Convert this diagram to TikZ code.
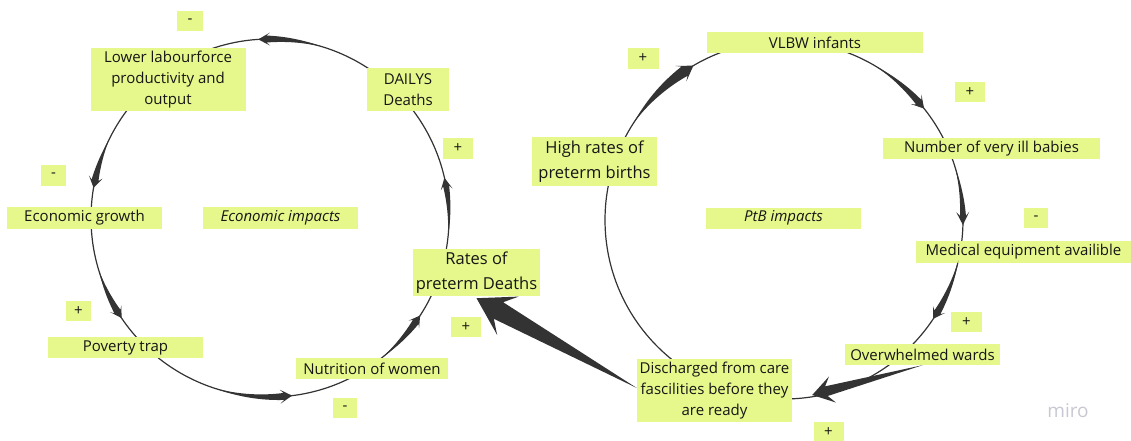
\documentclass[tikz,border=0pt]{standalone}
\usepackage{fontspec}
\setmainfont{Open Sans}
\usetikzlibrary{calc}
\definecolor{notefill}{HTML}{E6F78C}
\definecolor{ink}{HTML}{333333}
\definecolor{txt}{HTML}{161616}
\definecolor{wmark}{HTML}{C8C8D2}

% tapered arrow that follows a circular arc:
% #1 centre, #2 radius, #3 tail angle, #4 tip angle, #5 neck width, #6 head width, #7 head length
\newcommand{\arcwedge}[7]{%
  \pgfmathsetmacro{\wgS}{((#4)>(#3))?1:-1}%
  \pgfmathsetmacro{\wgA}{(#4)-\wgS*(#7)/(#2)*180/pi}%
  \pgfmathsetmacro{\wgN}{(#4)-\wgS*0.7*(#7)/(#2)*180/pi}%
  \begin{scope}[shift={(#1)}]
    \fill[wedge] (#3:#2)
      -- plot[domain=0:1,samples=14] ({(#3)+(\wgN-(#3))*\x}:{#2+(#5)/2*\x})
      -- (\wgA:{#2+(#6)/2}) -- (#4:#2) -- (\wgA:{#2-(#6)/2})
      -- plot[domain=0:1,samples=14] ({\wgN+((#3)-\wgN)*\x}:{#2-(#5)/2*(1-\x)})
      -- cycle;
  \end{scope}}

% straight tapered arrow: #1 tail, #2 tip, #3 neck width, #4 head width, #5 head length
\newcommand{\linewedge}[5]{%
  \pgfmathsetmacro{\wgN}{0.7*#5}%
  \pgfmathsetmacro{\wgW}{#3/2}%
  \pgfmathsetmacro{\wgH}{#4/2}%
  \fill[wedge] (#1)
    -- ($(#2)!\wgN pt!(#1)!\wgW pt!90:(#1)$)
    -- ($(#2)!#5 pt!(#1)!\wgH pt!90:(#1)$)
    -- (#2)
    -- ($(#2)!#5 pt!(#1)!\wgH pt!-90:(#1)$)
    -- ($(#2)!\wgN pt!(#1)!\wgW pt!-90:(#1)$)
    -- cycle;}

\begin{document}
\begin{tikzpicture}[x=1pt,y=-1pt,
  note/.style={fill=notefill, text=txt, inner sep=0pt, align=center,
    font=\fontsize{15}{21}\selectfont},
  bignote/.style={note, font=\fontsize{16.5}{24.5}\selectfont},
  sz/.style 2 args={minimum width=#1pt, minimum height=#2pt},
  loopline/.style={draw=ink, line width=1.2pt},
  wedge/.style={fill=ink}]

\useasboundingbox (0,0) rectangle (1131,441);

% centres of the two feedback loops
\coordinate (lc) at (270,218);
\coordinate (rc) at (784,220);

\draw[loopline] (lc) circle[radius=179pt];
\draw[loopline] (rc) circle[radius=179pt];

% economic loop
\node[note, sz={26}{20}]  (m1)      at (190,21)    {-};
\node[note, sz={155}{63}] (lower)   at (168,80)    {Lower labourforce\\productivity and\\output};
\node[note, sz={82}{43}]  (dailys)  at (408,90)    {DAILYS\\Deaths};
\node[note, sz={30}{21}]  (pd)      at (458,148.5) {+};
\node[note, sz={25}{21}]  (m2)      at (53.5,175.5){-};
\node[note, sz={155}{22}] (econ)    at (84.5,217.5){Economic growth};
\node[note, sz={155}{22}] (econimp) at (280.5,217.5){\itshape Economic impacts};
\node[bignote, sz={127}{47}] (rates) at (476.5,272.5){Rates of\\preterm Deaths};
\node[note, sz={30}{20}]  (pr)      at (466,327)   {+};
\node[note, sz={25}{20}]  (pp)      at (78.5,311)  {+};
\node[note, sz={155}{21}] (poverty) at (125.5,347.5){Poverty trap};
\node[note, sz={152}{21}] (nutr)    at (372,368.5) {Nutrition of women};
\node[note, sz={24}{20}]  (m3)      at (345,408)   {-};

% preterm-birth loop
\node[note, sz={31}{21}]  (ph)      at (643,58.5)  {+};
\node[note, sz={216}{21}] (vlbw)    at (815,42.5)  {VLBW infants};
\node[bignote, sz={125}{49}] (high) at (594.5,161.5){High rates of\\preterm births};
\node[note, sz={30}{20}]  (pv)      at (970,92)    {+};
\node[note, sz={217}{21}] (ill)     at (991.5,148.5){Number of very ill babies};
\node[note, sz={155}{21}] (ptb)     at (783.5,218) {\itshape PtB impacts};
\node[note, sz={24}{20}]  (mm)      at (1036,218)  {-};
\node[note, sz={215}{22}] (med)     at (1023.5,251.5){Medical equipment availible};
\node[note, sz={31}{20}]  (pm)      at (966.5,322) {+};
\node[note, sz={155}{21}] (over)    at (922.5,354.5){Overwhelmed wards};
\node[note, sz={155}{63}] (disch)   at (714.5,390.5){Discharged from care\\fascilities before they\\are ready};
\node[note, sz={30}{20}]  (po)      at (828.5,432) {+};

\node[text=wmark, font=\fontsize{19}{19}\selectfont, inner sep=0pt] (wm) at (1068,411) {miro};

% arrows along the economic loop
\arcwedge{lc}{179}{-73}{-93.8}{7}{13}{12}
\arcwedge{lc}{179}{206}{189.7}{7}{14}{11}
\arcwedge{lc}{179}{163}{146}{7}{13}{11}
\arcwedge{lc}{179}{108}{82.9}{7}{14}{12}
\arcwedge{lc}{179}{51}{33}{7}{13}{11}
\arcwedge{lc}{179}{6}{-13}{6}{12}{12}

% arrows along the preterm-birth loop
\arcwedge{rc}{179}{-147}{-120.4}{11}{19}{15}
\arcwedge{rc}{179}{-59}{-38.5}{7}{14}{12}
\arcwedge{rc}{179}{-17}{1.6}{6}{13}{13}
\arcwedge{rc}{179}{13}{33.5}{7}{14}{11}

% straight links
\coordinate (kT) at (over.south);
\coordinate (kH) at ($(disch.east)+(20,4.5)$);
\linewedge{kT}{kH}{10}{27}{21}

\coordinate (lT) at ($(disch.west)+(0,-2.5)$);
\coordinate (lH) at ($(rates.south)+(0,2)$);
\linewedge{lT}{lH}{19}{44}{36}

\end{tikzpicture}
\end{document}
